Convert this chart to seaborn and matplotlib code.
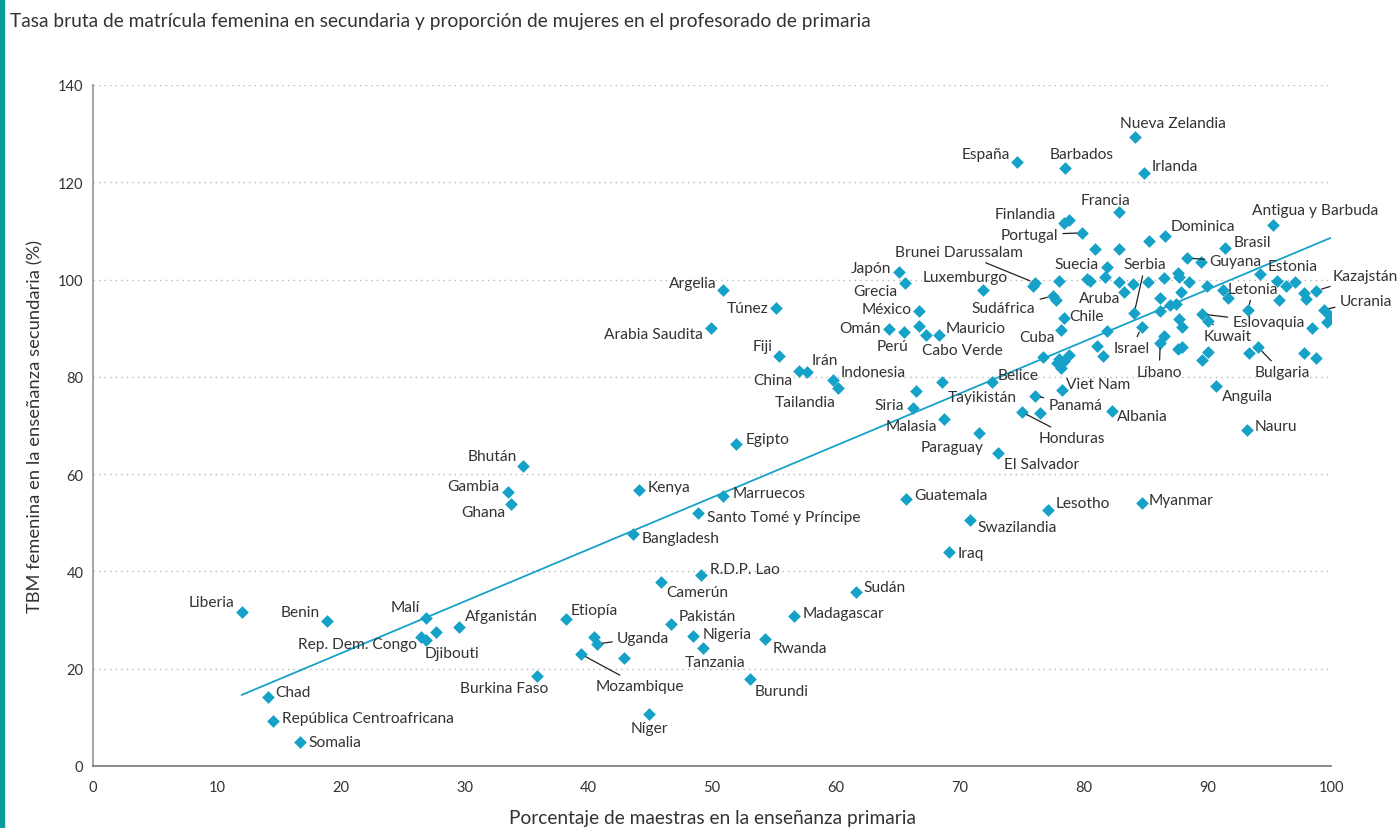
import numpy as np
import pandas as pd
import matplotlib.pyplot as plt
import seaborn as sns
from matplotlib.patches import Rectangle

# --------------------------------------------------------------
# Data
# --------------------------------------------------------------

countries = [
    "Nueva Zelandia", "Irlanda", "España", "Barbados", "Francia", "Finlandia",
    "Portugal", "Dominica", "Brasil", "Antigua y Barbuda", "Guyana", "Estonia",
    "Brunei Darussalam", "Japón", "Grecia", "Luxemburgo", "Sudáfrica", "Suecia",
    "Serbia", "Aruba", "México", "Omán", "Perú", "Mauricio", "Cabo Verde",
    "Chile", "Cuba", "Israel", "Líbano", "Letonia", "Eslovaquia", "Kuwait",
    "Bulgaria", "Anguila", "Nauru", "Albania", "Kazajstán", "Ucrania", "Belice",
    "Viet Nam", "Panamá", "Honduras", "Tayikistán", "Siria", "Malasia",
    "Paraguay", "El Salvador", "Indonesia", "Tailandia", "Irán", "China",
    "Fiji", "Túnez", "Argelia", "Arabia Saudita", "Egipto", "Kenya",
    "Marruecos", "Santo Tomé y Príncipe", "Bangladesh", "R.D.P. Lao",
    "Camerún", "Etiopía", "Pakistán", "Uganda", "Nigeria", "Tanzania",
    "Rwanda", "Madagascar", "Sudán", "Burundi", "Mozambique", "Níger",
    "Guatemala", "Swazilandia", "Iraq", "Lesotho", "Myanmar", "Bhután",
    "Gambia", "Ghana", "Liberia", "Benin", "Malí", "Rep. Dem. Congo",
    "Djibouti", "Afganistán", "Chad", "República Centroafricana", "Somalia",
    "Burkina Faso",
]
teachers_pct = [
    84.2, 84.9, 74.6, 78.5, 82.9, 78.4,
    79.9, 86.6, 91.4, 95.3, 88.4, 94.3,
    76.1, 65.1, 65.6, 71.9, 77.5, 81.9,
    84.1, 83.3, 66.7, 64.3, 65.5, 68.3, 67.3,
    78.4, 78.2, 84.7, 86.2, 93.3, 89.6, 90.1,
    94.1, 90.7, 93.2, 82.3, 98.8, 99.4, 72.6,
    78.3, 76.1, 75.0, 68.6, 66.2, 68.7,
    71.6, 73.1, 59.8, 60.2, 57.7, 57.0,
    55.4, 55.2, 50.9, 49.9, 51.9, 44.1,
    50.9, 48.9, 43.6, 49.1,
    45.9, 38.2, 46.7, 40.7, 48.5, 49.3,
    54.3, 56.6, 61.6, 53.1, 39.4, 44.9,
    65.7, 70.8, 69.1, 77.1, 84.7, 34.7,
    33.5, 33.8, 12.0, 18.9, 26.9, 26.5,
    26.9, 29.6, 14.1, 14.5, 16.7,
    35.9,
]
girls_ger = [
    129.3, 121.9, 124.2, 122.9, 113.9, 111.6,
    109.6, 109.0, 106.5, 111.2, 104.4, 101.2,
    99.3, 101.6, 99.3, 97.9, 96.6, 102.6,
    93.1, 97.5, 93.5, 89.8, 89.2, 88.6, 88.6,
    92.1, 89.6, 90.2, 87.0, 93.8, 92.9, 91.5,
    86.1, 78.1, 69.1, 73.0, 97.7, 93.8, 79.0,
    77.2, 76.1, 72.8, 79.0, 73.6, 71.3,
    68.5, 64.4, 79.4, 77.8, 81.0, 81.2,
    84.3, 94.2, 97.9, 90.0, 66.2, 56.7,
    55.5, 52.0, 47.7, 39.3,
    37.8, 30.2, 29.2, 25.1, 26.7, 24.3,
    26.1, 30.8, 35.7, 17.9, 23.0, 10.7,
    54.9, 50.6, 44.0, 52.6, 54.1, 61.7,
    56.3, 53.9, 31.6, 29.8, 30.4, 26.5,
    25.9, 28.6, 14.2, 9.3, 4.9,
    18.5,
]

# countries shown without a name
other_x = [
    78.8, 80.9, 82.9, 85.3, 89.5, 81.7, 78.0, 80.3, 80.5, 82.9, 84.0, 86.5,
    86.2, 87.6, 87.7, 75.9, 77.8, 86.5, 86.2, 87.0, 87.5, 81.9, 81.1, 81.6,
    78.8, 78.0, 77.9, 78.2, 78.4, 76.7, 66.7, 66.5, 76.5, 85.2, 88.5, 87.9,
    87.7, 88.0, 90.0, 91.3, 91.7, 87.6, 88.0, 89.6, 90.1, 93.4, 95.6, 96.4,
    97.1, 95.8, 97.8, 98.0, 99.9, 99.7, 98.5, 97.8, 98.8, 40.5, 42.9, 27.7,
]
other_y = [
    112.3, 106.3, 106.3, 107.9, 103.6, 100.5, 99.7, 100.1, 99.7, 99.5, 99.1, 100.3,
    96.2, 101.4, 100.5, 98.7, 95.8, 88.4, 93.5, 94.7, 94.9, 89.4, 86.3, 84.3,
    84.5, 83.7, 82.9, 81.8, 83.3, 84.1, 90.5, 77.1, 72.6, 99.5, 99.5, 97.5,
    91.9, 90.3, 98.7, 97.9, 96.2, 85.7, 86.1, 83.5, 85.1, 84.9, 99.7, 98.7,
    99.5, 95.8, 97.3, 96.0, 92.5, 91.3, 90.0, 84.9, 83.9, 26.5, 22.2, 27.5,
]

# fitted trend line as drawn in the chart
trend_x = [12.0, 100.0]
trend_y = [14.6, 108.6]

# --------------------------------------------------------------
# Label placement: (dx px, dy px, ha, leader line)
# --------------------------------------------------------------

label_pos = {
    "Nueva Zelandia": (-15, 14, "left", False),
    "Irlanda": (8, 7, "left", False),
    "España": (-7, 8, "right", False),
    "Barbados": (-15, 14, "left", False),
    "Francia": (11, 12, "right", False),
    "Finlandia": (-8, 9, "right", False),
    "Portugal": (-24, -2, "right", True),
    "Brunei Darussalam": (-12, 31, "right", True),
    "Japón": (-8, 4, "right", False),
    "Grecia": (-8, -8, "right", False),
    "Luxemburgo": (25, 13, "right", False),
    "Sudáfrica": (-17, -12, "right", True),
    "Suecia": (-8, 3, "right", False),
    "Serbia": (11, 49, "center", True),
    "Aruba": (-4, -6, "right", False),
    "México": (-7, 2, "right", False),
    "Omán": (-8, 1, "right", False),
    "Perú": (-11, -14, "center", False),
    "Mauricio": (7, 7, "left", False),
    "Cabo Verde": (-4, -15, "left", False),
    "Chile": (6, 2, "left", False),
    "Cuba": (-6, -7, "right", False),
    "Israel": (-10, -21, "center", True),
    "Líbano": (-1, -29, "center", True),
    "Letonia": (5, 21, "center", True),
    "Eslovaquia": (30, -8, "left", True),
    "Kuwait": (19, -15, "center", True),
    "Bulgaria": (24, -25, "center", True),
    "Anguila": (6, -10, "left", False),
    "Nauru": (8, 4, "left", False),
    "Albania": (5, -5, "left", False),
    "Kazajstán": (16, 15, "left", True),
    "Ucrania": (16, 9, "left", True),
    "Estonia": (7, 8, "left", False),
    "Guyana": (22, -3, "left", True),
    "Brasil": (9, 6, "left", False),
    "Dominica": (5, 10, "left", False),
    "Antigua y Barbuda": (-21, 15, "left", False),
    "Belice": (6, 7, "left", False),
    "Viet Nam": (4, 6, "left", False),
    "Panamá": (13, -9, "left", True),
    "Honduras": (17, -26, "left", True),
    "Tayikistán": (5, -15, "left", False),
    "Siria": (-9, 3, "right", False),
    "Malasia": (-6, -7, "right", False),
    "Paraguay": (4, -14, "right", False),
    "El Salvador": (6, -11, "left", False),
    "Indonesia": (7, 8, "left", False),
    "Tailandia": (-3, -14, "right", False),
    "Irán": (4, 12, "left", False),
    "China": (-6, -9, "right", False),
    "Fiji": (-6, 10, "right", False),
    "Túnez": (-8, 0, "right", False),
    "Argelia": (-7, 7, "right", False),
    "Arabia Saudita": (-8, -6, "right", False),
    "Egipto": (10, 5, "left", False),
    "Kenya": (9, 3, "left", False),
    "Marruecos": (9, 3, "left", False),
    "Santo Tomé y Príncipe": (9, -4, "left", False),
    "Bangladesh": (9, -4, "left", False),
    "R.D.P. Lao": (9, 6, "left", False),
    "Camerún": (5, -10, "left", False),
    "Etiopía": (5, 9, "left", False),
    "Pakistán": (7, 8, "left", False),
    "Uganda": (20, 6, "left", True),
    "Nigeria": (9, 2, "left", False),
    "Tanzania": (12, -14, "center", False),
    "Rwanda": (7, -9, "left", False),
    "Madagascar": (9, 3, "left", False),
    "Sudán": (8, 5, "left", False),
    "Burundi": (4, -12, "left", False),
    "Mozambique": (15, -32, "left", True),
    "Níger": (0, -14, "center", False),
    "Guatemala": (8, 4, "left", False),
    "Swazilandia": (8, -7, "left", False),
    "Iraq": (9, -1, "left", False),
    "Lesotho": (8, 7, "left", False),
    "Myanmar": (7, 3, "left", False),
    "Bhután": (-6, 10, "right", False),
    "Gambia": (-8, 6, "right", False),
    "Ghana": (-6, -8, "right", False),
    "Liberia": (-7, 10, "right", False),
    "Benin": (-7, 9, "right", False),
    "Malí": (-6, 11, "right", False),
    "Rep. Dem. Congo": (-4, -7, "right", False),
    "Djibouti": (-1, -13, "left", False),
    "Afganistán": (5, 11, "left", False),
    "Chad": (8, 5, "left", False),
    "República Centroafricana": (9, 3, "left", False),
    "Somalia": (9, 0, "left", False),
    "Burkina Faso": (11, -12, "right", False),
}

# --------------------------------------------------------------
# Plot
# --------------------------------------------------------------

sns.set_theme(style="white")
plt.rcParams["font.family"] = ["Lato", "DejaVu Sans"]

blue = "#16a2c8"
text_col = "#333333"

df = pd.DataFrame({
    "x": teachers_pct + other_x,
    "y": girls_ger + other_y,
})

fig = plt.figure(figsize=(13.97, 8.29), dpi=100)
ax = fig.add_axes([0.0666, 0.0748, 0.8862, 0.8215])

ax.set_axisbelow(True)
for yv in range(20, 141, 20):
    ax.axhline(yv, color="#b5b5b5", lw=1.0, ls=(0, (1, 3)), zorder=0)

sns.lineplot(x=trend_x, y=trend_y, ax=ax, color=blue, lw=1.3, zorder=2)
sns.scatterplot(data=df, x="x", y="y", ax=ax, marker="D", s=42,
                color=blue, linewidth=0, zorder=3)

for name, px, py in zip(countries, teachers_pct, girls_ger):
    dx, dy, ha, leader = label_pos[name]
    arrow = None
    if leader:
        arrow = dict(arrowstyle="-", color="#222222", lw=0.9,
                     shrinkA=1, shrinkB=4)
    ax.annotate(name, (px, py), xytext=(dx, dy), textcoords="offset pixels",
                ha=ha, va="center", fontsize=11.2, color=text_col,
                arrowprops=arrow, zorder=4)

ax.set_xlim(0, 100)
ax.set_ylim(0, 140)
ax.set_xticks(range(0, 101, 10))
ax.set_yticks(range(0, 141, 20))
ax.tick_params(axis="x", direction="out", length=6, width=1, color="#777777",
               labelsize=10.5, labelcolor=text_col, pad=4)
ax.tick_params(axis="y", direction="out", length=4, width=1, color="#999999",
               labelsize=10.5, labelcolor=text_col, pad=3)
for side in ["top", "right"]:
    ax.spines[side].set_visible(False)
ax.spines["left"].set_color("#999999")
ax.spines["bottom"].set_color("#777777")
ax.spines["bottom"].set_linewidth(1.2)

ax.set_xlabel("Porcentaje de maestras en la enseñanza primaria",
              fontsize=13.8, color=text_col, labelpad=11)
ax.set_ylabel("TBM femenina en la enseñanza secundaria (%)",
              fontsize=13.2, color=text_col, labelpad=10)

fig.text(0.007, 1 - 22 / 829,
         "Tasa bruta de matrícula femenina en secundaria y proporción de mujeres en el profesorado de primaria",
         fontsize=13.8, color=text_col, va="center", ha="left")

# teal bar along the left edge
fig.patches.append(Rectangle((0, 0), 4 / 1397, 1, transform=fig.transFigure,
                             color="#0d9a9a", zorder=5))

fig.savefig("out.png", dpi=100)
